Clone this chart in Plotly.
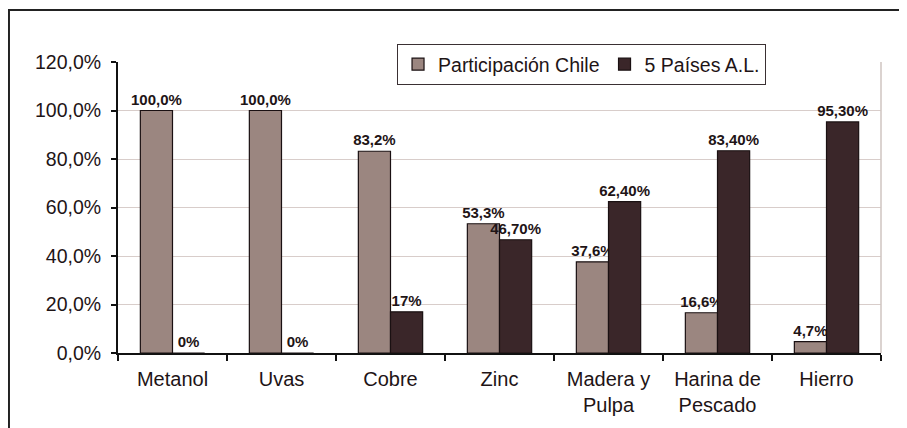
import plotly.graph_objects as go

categories = ["Metanol", "Uvas", "Cobre", "Zinc", "Madera y<br>Pulpa", "Harina de<br>Pescado", "Hierro"]
chile_vals = [100.0, 100.0, 83.2, 53.3, 37.6, 16.6, 4.7]
chile_text = ["100,0%", "100,0%", "83,2%", "53,3%", "37,6%", "16,6%", "4,7%"]
al_vals = [0.0, 0.0, 17.0, 46.7, 62.4, 83.4, 95.3]
al_text = ["0%", "0%", "17%", "46,70%", "62,40%", "83,40%", "95,30%"]
y_tickvals = [0, 20, 40, 60, 80, 100, 120]
y_ticktext = ["0,0%", "20,0%", "40,0%", "60,0%", "80,0%", "100,0%", "120,0%"]

label_font = dict(family="Liberation Sans, Arial", size=15, color="#1e1416", weight="bold")

fig = go.Figure()
fig.add_trace(go.Bar(
    x=categories, y=chile_vals, name="Participación Chile",
    marker=dict(color="#9b8680", line=dict(color="#1a1012", width=1.2)),
    text=chile_text, textposition="outside", outsidetextfont=label_font, textfont=label_font,
    constraintext="none", cliponaxis=False, hoverinfo="skip",
))
fig.add_trace(go.Bar(
    x=categories, y=al_vals, name="5 Países A.L.",
    marker=dict(color="#3a2629", line=dict(color="#1a1012", width=1.2)),
    text=al_text, textposition="outside", outsidetextfont=label_font, textfont=label_font,
    constraintext="none", cliponaxis=False, hoverinfo="skip",
))

fig.update_layout(
    width=907, height=428,
    margin=dict(l=110, r=34, t=54, b=83),
    paper_bgcolor="white", plot_bgcolor="white",
    barmode="group", bargap=0.41, bargroupgap=0,
    font=dict(family="Liberation Sans, Arial", size=20, color="#1e1416"),
    showlegend=True,
    legend=dict(
        orientation="h", x=0.3657, y=1.062, xanchor="left", yanchor="top",
        bgcolor="white", bordercolor="#3a3033", borderwidth=1,
        font=dict(size=19.5), itemwidth=30, tracegroupgap=0,
    ),
)
fig.update_yaxes(
    range=[0, 120], tickvals=y_tickvals, ticktext=y_ticktext,
    showgrid=True, gridcolor="#d8cdca", gridwidth=1,
    showline=True, linecolor="#111", linewidth=2,
    ticks="outside", ticklen=5, tickcolor="#111", tickwidth=2,
    zeroline=False, tickfont=dict(size=19.5), ticklabelstandoff=6,
)
fig.update_xaxes(
    showline=True, linecolor="#111", linewidth=2,
    ticks="outside", tickson="boundaries", ticklen=6, tickcolor="#111", tickwidth=2,
    showgrid=False, tickfont=dict(size=20), ticklabelstandoff=7,
)
# plot area right border
fig.add_shape(type="line", xref="paper", yref="paper", x0=1, x1=1, y0=0, y1=1,
              line=dict(color="#cfc4c1", width=1.5))
# outer frame
fig.add_shape(type="rect", xref="paper", yref="paper", x0=-0.1429, x1=1.3, y0=-0.5, y1=1.1787,
              line=dict(color="#222", width=2), fillcolor="rgba(0,0,0,0)", layer="below")

fig.write_html("out.html")
